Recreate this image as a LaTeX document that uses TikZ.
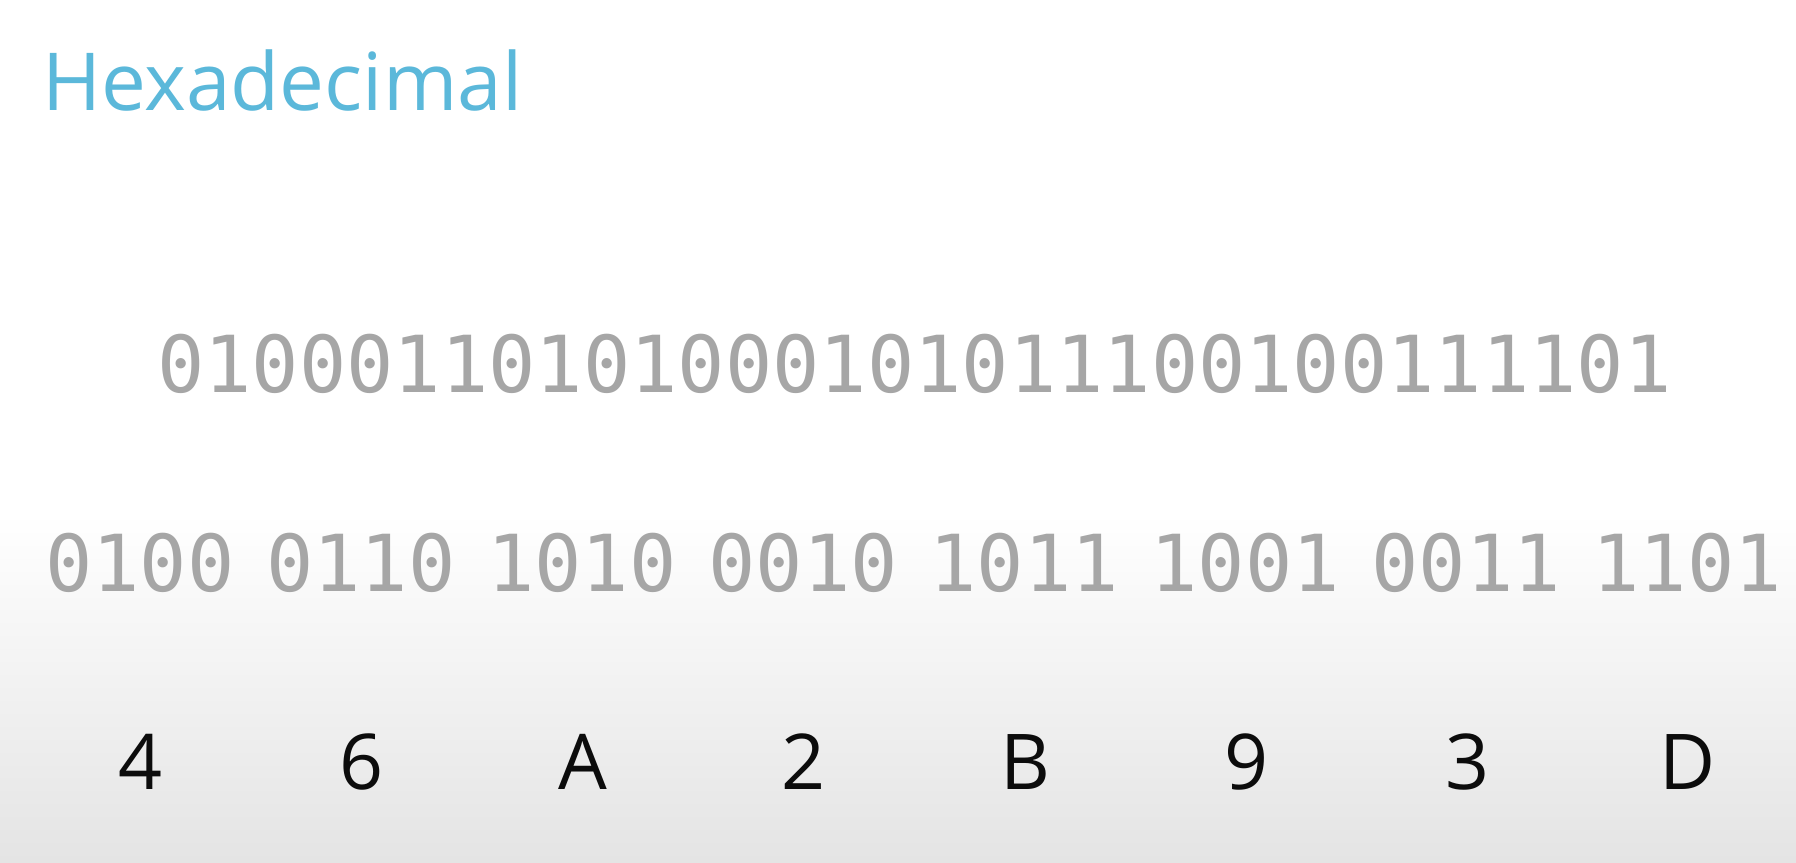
\documentclass[tikz,border=0pt]{standalone}
\usepackage{fontspec}
\setmainfont{Open Sans}
\newfontfamily\hexfont{Open Sans}
\newfontfamily\bitfont{DejaVu Sans Mono}
\definecolor{titleblue}{RGB}{91,184,218}
\definecolor{bitgray}{RGB}{166,166,166}
\definecolor{hexblack}{RGB}{12,12,12}
\definecolor{bgbottom}{RGB}{228,228,228}
\tikzset{
  titletext/.style={anchor=base west, inner sep=0pt, text=titleblue, font=\fontsize{80}{86}\selectfont},
  bitrow/.style={anchor=base, inner sep=0pt, text=bitgray, font=\bitfont\fontsize{78.6}{80}\selectfont},
  hexdigit/.style={anchor=base, inner sep=0pt, text=hexblack, font=\hexfont\fontsize{77}{80}\selectfont},
}
\begin{document}
\begin{tikzpicture}[x=1pt,y=-1pt]
\useasboundingbox (0,0) rectangle (1796,862);
\fill[white] (0,0) rectangle (1796,862);
\shade[top color=white, bottom color=bgbottom] (0,513) rectangle (1796,862);
\node[titletext] (title) at (42,110) {Hexadecimal};
\node[bitrow] (bits) at (914.5,392) {01000110101000101011100100111101};
\foreach \g/\h [count=\i from 0] in {0100/4,0110/6,1010/A,0010/2,1011/B,1001/9,0011/3,1101/D}{
  \node[bitrow] (grp\i) at ({140+221*\i},591) {\g};
  \node[hexdigit] (hex\i) at ({141+221*\i},789) {\h};
}
\end{tikzpicture}
\end{document}
